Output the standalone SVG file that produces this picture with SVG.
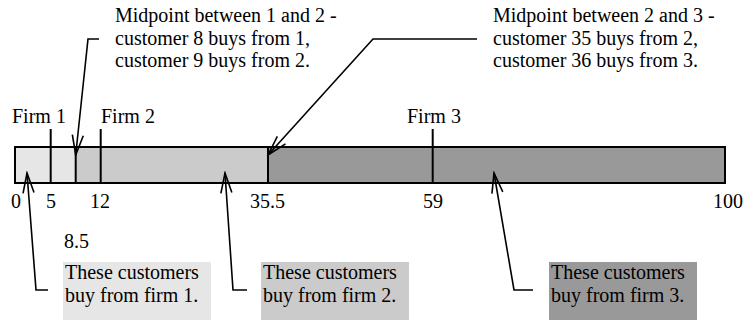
<svg xmlns="http://www.w3.org/2000/svg" width="743" height="320" viewBox="0 0 743 320">
<defs>
<style>
text{font-family:"Liberation Serif","Times New Roman",serif;font-size:20px;fill:#000}
.ln{stroke:#000;stroke-width:2;fill:none}
.ld{stroke:#000;stroke-width:1.6;fill:none;marker-end:url(#ah)}
.f1{fill:#e6e6e6}.f2{fill:#cbcbcb}.f3{fill:#999999}
</style>
<marker id="ah" markerUnits="userSpaceOnUse" viewBox="-22 -7 24 14" refX="0" refY="0" markerWidth="24" markerHeight="14" orient="auto">
<path d="M-20,-5.5 L0,0 L-20,5.5" fill="none" stroke="#000" stroke-width="1.6"/>
</marker>
</defs>
<g id="bar">
<rect class="f1" x="15" y="147" width="60.7" height="36"/>
<rect class="f2" x="75.7" y="147" width="192.3" height="36"/>
<rect class="f3" x="268" y="147" width="457" height="36"/>
<rect class="ln" x="15" y="147" width="710" height="36"/>
<line class="ln" x1="75.7" y1="147" x2="75.7" y2="183"/>
<line class="ln" x1="268" y1="147" x2="268" y2="183"/>
</g>
<g id="firm1">
<line class="ln" x1="50.7" y1="129" x2="50.7" y2="183"/>
<text x="12" y="123">Firm 1</text>
</g>
<g id="firm2">
<line class="ln" x1="100.7" y1="129" x2="100.7" y2="183"/>
<text x="101" y="123">Firm 2</text>
</g>
<g id="firm3">
<line class="ln" x1="432.7" y1="129" x2="432.7" y2="183"/>
<text x="407" y="123">Firm 3</text>
</g>
<g id="ticks">
<text x="11" y="208">0</text>
<text x="46" y="208">5</text>
<text x="90" y="208">12</text>
<text x="250" y="208">35.5</text>
<text x="423" y="208">59</text>
<text x="713" y="208">100</text>
<text x="64" y="248">8.5</text>
</g>
<g id="note12">
<text x="115" y="22">Midpoint between 1 and 2 -</text>
<text x="115" y="44.5">customer 8 buys from 1,</text>
<text x="115" y="67">customer 9 buys from 2.</text>
</g>
<g id="note23">
<text x="493" y="22">Midpoint between 2 and 3 -</text>
<text x="493" y="44.5">customer 35 buys from 2,</text>
<text x="493" y="67">customer 36 buys from 3.</text>
</g>
<g id="box1">
<rect class="f1" x="63" y="262" width="148" height="58"/>
<text x="65" y="279">These customers</text>
<text x="65" y="302">buy from firm 1.</text>
</g>
<g id="box2">
<rect class="f2" x="261" y="262" width="148" height="58"/>
<text x="263" y="279">These customers</text>
<text x="263" y="302">buy from firm 2.</text>
</g>
<g id="box3">
<rect class="f3" x="549" y="262" width="148" height="58"/>
<text x="551" y="279">These customers</text>
<text x="551" y="302">buy from firm 3.</text>
</g>
<g id="connectors">
<path class="ld" d="M99,39 L88,39 L75.7,155"/>
<path class="ld" d="M477,39 L373,39 L268,155"/>
<path class="ld" d="M48,290 L36,290 L27,173"/>
<path class="ld" d="M247,290 L233,290 L225,173"/>
<path class="ld" d="M533,290 L514,290 L494,173"/>
</g>
</svg>
